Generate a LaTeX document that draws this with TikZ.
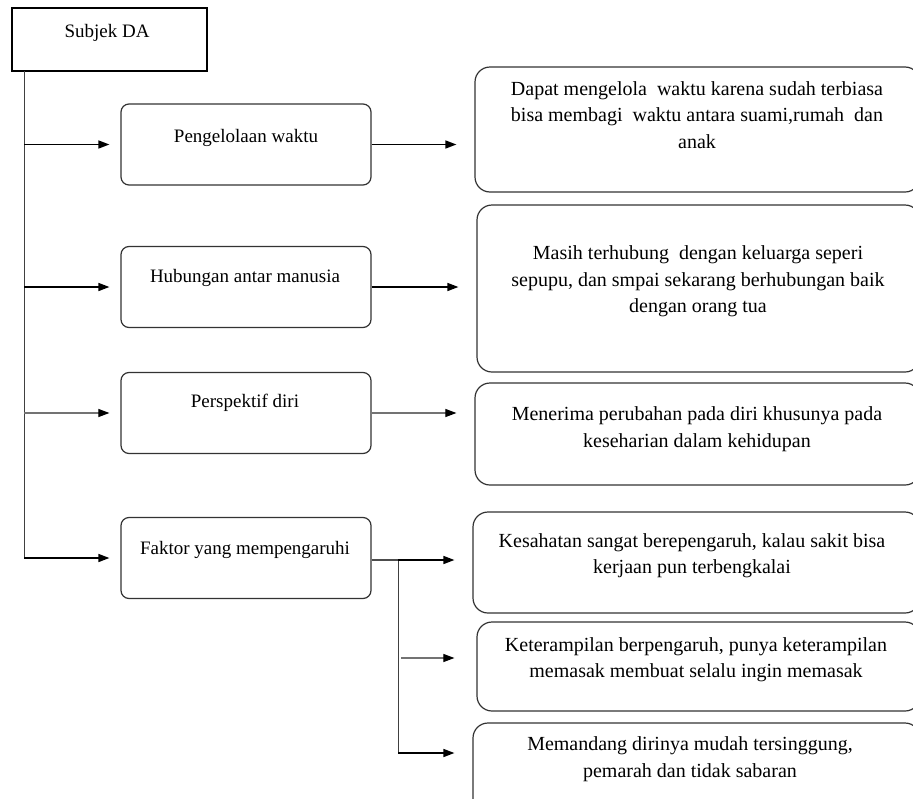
\documentclass[tikz,border=0pt]{standalone}
\usepackage{fontspec}
\setmainfont{Liberation Serif}
\usetikzlibrary{arrows.meta}
\begin{document}
\begin{tikzpicture}[x=1pt,y=-1pt,
  sbox/.style={draw=black, line width=1.3pt, inner sep=0pt},
  lbox/.style={draw=black!80, line width=1.2pt, rounded corners=8pt, inner sep=0pt, minimum width=250pt, minimum height=81pt},
  rbox/.style={draw=black!80, line width=1.2pt, rounded corners=15pt, inner sep=0pt},
  ltext/.style={font=\fontsize{19}{24}\selectfont, inner sep=0pt},
  rtext/.style={font=\fontsize{20}{26.5}\selectfont, align=center, inner sep=0pt},
  arr/.style={line width=1.5pt, draw=black, -{Triangle[length=11pt,width=8pt]}},
  thinarr/.style={line width=1.1pt, draw=black!55, -{Triangle[length=11pt,width=8pt,color=black]}},
  trunkline/.style={line width=1pt, draw=black!75},
]
\fill[white] (0,0) rectangle (913,798);
\useasboundingbox (0,0) rectangle (913,798);
\clip (0,0) rectangle (913,798);

% subject
\node[sbox, minimum width=195pt, minimum height=63pt] (s) at (109.5,39.5) {};
\node[ltext] (st) at (107,33) {Subjek DA};

% left boxes
\node[lbox] (p1) at (246,144.5) {};
\node[ltext] (p1t) at (246,138) {Pengelolaan waktu};
\node[lbox] (p2) at (246,287) {};
\node[ltext] (p2t) at (245,278) {Hubungan antar manusia};
\node[lbox] (p3) at (246,413) {};
\node[ltext] (p3t) at (245,403) {Perspektif diri};
\node[lbox] (p4) at (246,558) {};
\node[ltext] (p4t) at (245,550) {Faktor yang mempengaruhi};

% right boxes
\node[rbox, minimum width=445pt, minimum height=125pt] (r1) at (697.5,129.5) {};
\node[rtext] (r1t) at (697,115) {Dapat mengelola\ \ waktu karena sudah terbiasa\\ bisa membagi\ \ waktu antara suami,rumah\ \ dan\\ anak};
\node[rbox, minimum width=443pt, minimum height=167pt] (r2) at (698.5,288.5) {};
\node[rtext] (r2t) at (698,281.5) {Masih terhubung\ \ dengan keluarga seperi\\ sepupu, dan smpai sekarang berhubungan baik\\ dengan orang tua};
\node[rbox, minimum width=445pt, minimum height=102pt] (r3) at (697.5,434) {};
\node[rtext] (r3t) at (697,429) {Menerima perubahan pada diri khusunya pada\\ keseharian dalam kehidupan};
\node[rbox, minimum width=447pt, minimum height=101pt] (r4) at (696.5,562.5) {};
\node[rtext] (r4t) at (692,555.5) {Kesahatan sangat berepengaruh, kalau sakit bisa\\ kerjaan pun terbengkalai};
\node[rbox, minimum width=443pt, minimum height=89pt] (r5) at (698.5,666.5) {};
\node[rtext] (r5t) at (696,659.5) {Keterampilan berpengaruh, punya keterampilan\\ memasak membuat selalu ingin memasak};
\node[rbox, minimum width=447pt, minimum height=110pt] (r6) at (696.5,778) {};
\node[rtext] (r6t) at (690,759) {Memandang dirinya mudah tersinggung,\\ pemarah dan tidak sabaran};

% trunk
\coordinate (t0) at (24,71);
\draw[trunkline] (t0) -- (t0 |- p4.west);
\draw[arr, shorten >=11pt] (t0 |- p1.west) -- (p1.west);
\draw[arr, shorten >=11pt] (t0 |- p2.west) -- (p2.west);
\draw[thinarr, shorten >=11pt] (t0 |- p3.west) -- (p3.west);
\draw[arr, shorten >=11pt] (t0 |- p4.west) -- (p4.west);

% right arrows
\draw[arr, shorten >=18pt] (p1.east) -- (p1.east -| r1.west);
\draw[arr, shorten >=18pt] (p2.east) -- (p2.east -| r2.west);
\draw[thinarr, shorten >=18pt] (p3.east) -- (p3.east -| r3.west);

% factor branch
\coordinate (b1) at (398,560);
\coordinate (b2) at (401,658);
\coordinate (b3) at (398,753);
\draw[line width=1.2pt, draw=black!70] (p4.east |- b1) -- (b1);
\draw[trunkline] (b1) -- (b3);
\draw[arr, shorten >=18pt] (b1) -- (b1 -| r4.west);
\draw[thinarr, shorten >=22pt] (b2) -- (b2 -| r5.west);
\draw[arr, shorten >=18pt] (b3) -- (b3 -| r6.west);
\end{tikzpicture}
\end{document}
